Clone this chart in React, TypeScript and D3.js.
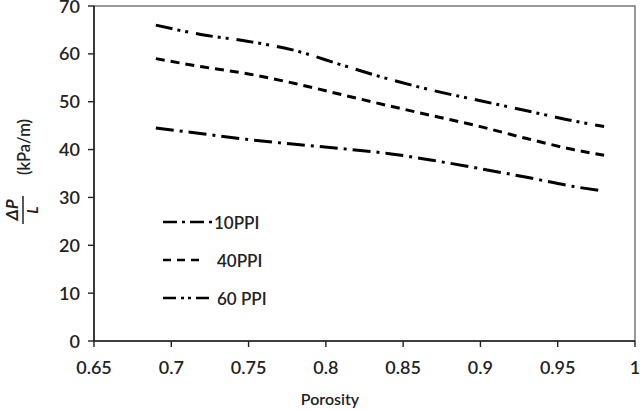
import { line, curveMonotoneX, scaleLinear } from "d3";

const porosity = [0.69, 0.72, 0.75, 0.78, 0.81, 0.84, 0.87, 0.9, 0.93, 0.96, 0.98];
const ppi10 = [44.5, 43.3, 42.1, 41.1, 40.2, 39.2, 37.7, 36.0, 34.2, 32.3, 31.3];
const ppi40 = [59.0, 57.3, 55.8, 53.8, 51.5, 49.2, 47.0, 44.8, 42.3, 40.0, 38.8];
const ppi60 = [66.0, 64.0, 62.6, 60.7, 57.7, 54.8, 52.3, 50.2, 48.1, 46.0, 44.8];
const xTicks = [0.65, 0.7, 0.75, 0.8, 0.85, 0.9, 0.95, 1];
const yTicks = [0, 10, 20, 30, 40, 50, 60, 70];

const series = [
  { name: "10PPI", values: ppi10, dash: "18 6 3 6", legendDash: "14 5 3 5", legendEnd: 213 },
  { name: "40PPI", values: ppi40, dash: "9 6", legendDash: "8 6", legendEnd: 204 },
  { name: "60 PPI", values: ppi60, dash: "17 5 3 5 3 8", legendDash: "13 5 3 4 3 5", legendEnd: 214 },
];

const font = "Lato, 'Open Sans', sans-serif";

export default function App() {
  const width = 640;
  const height = 411;
  const left = 94;
  const right = 635;
  const top = 6;
  const bottom = 341;

  const x = scaleLinear().domain([0.65, 1]).range([left, right]);
  const y = scaleLinear().domain([0, 70]).range([bottom, top]);

  const path = (values: number[]) =>
    line<number>()
      .x((_, i) => x(porosity[i]))
      .y((d) => y(d))
      .curve(curveMonotoneX)(values) ?? "";

  return (
    <svg
      width={width}
      height={height}
      viewBox={`0 0 ${width} ${height}`}
      style={{ position: "absolute", left: 0, top: 0, background: "#fff" }}
      fontFamily={font}
    >
      {/* frame */}
      <rect x={left} y={top} width={right - left} height={bottom - top} fill="none" stroke="#555" strokeWidth="1.2" />
      <line x1={left} x2={left} y1={top} y2={bottom} stroke="#222" strokeWidth="1.6" />
      <line x1={left} x2={right} y1={bottom} y2={bottom} stroke="#222" strokeWidth="1.6" />

      {yTicks.map((t) => (
        <g key={t}>
          <line x1={left - 6} x2={left} y1={y(t)} y2={y(t)} stroke="#222" strokeWidth="1.4" />
          <text x={left - 14} y={y(t) + 6.5} textAnchor="end" fontSize="18" fontWeight="600" fill="#222">
            {t}
          </text>
        </g>
      ))}

      {xTicks.map((t) => (
        <g key={t}>
          <line x1={x(t)} x2={x(t)} y1={bottom} y2={bottom + 6} stroke="#222" strokeWidth="1.4" />
          <text x={x(t)} y={374} textAnchor="middle" fontSize="18" fontWeight="600" fill="#222">
            {t}
          </text>
        </g>
      ))}

      <text x={330} y={405} textAnchor="middle" fontSize="16" fontWeight="600" fill="#222">
        Porosity
      </text>

      {/* y axis label: ΔP / L (kPa/m) */}
      <text
        transform="translate(18, 210) rotate(-90)"
        textAnchor="middle"
        fontSize="17"
        fontWeight="700"
        fontStyle="italic"
        fill="#222"
      >
        ΔP
      </text>
      <line x1={23} x2={23} y1={196} y2={224} stroke="#222" strokeWidth="1.5" />
      <text
        transform="translate(38, 210) rotate(-90)"
        textAnchor="middle"
        fontSize="15"
        fontWeight="700"
        fontStyle="italic"
        fill="#222"
      >
        L
      </text>
      <text
        transform="translate(30, 147) rotate(-90)"
        textAnchor="middle"
        fontSize="16.5"
        fontWeight="600"
        fill="#222"
      >
        (kPa/m)
      </text>

      {series.map((s) => (
        <path key={s.name} d={path(s.values)} fill="none" stroke="#000" strokeWidth="3" strokeDasharray={s.dash} />
      ))}

      {/* legend */}
      {series.map((s, i) => {
        const ly = 222 + i * 38;
        return (
          <g key={s.name}>
            <line x1={163} x2={s.legendEnd} y1={ly} y2={ly} stroke="#000" strokeWidth="2.7" strokeDasharray={s.legendDash} />
            <text x={i === 0 ? 214 : 217} y={ly + 6.5} fontSize="17" fontWeight="600" fill="#222">
              {s.name}
            </text>
          </g>
        );
      })}
    </svg>
  );
}
